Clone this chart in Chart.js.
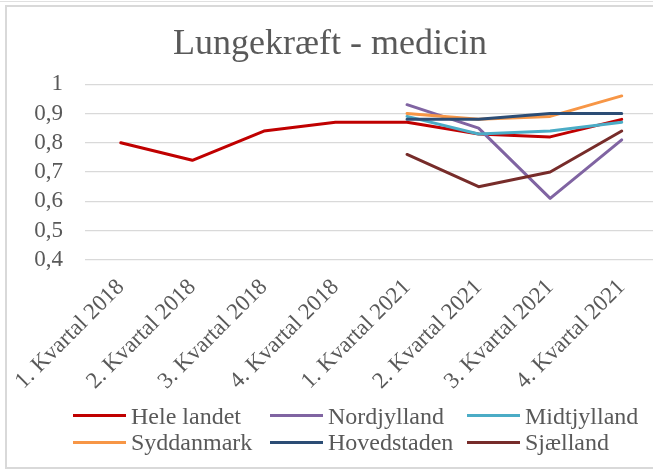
<!DOCTYPE html>
<html>
<head>
<meta charset="utf-8">
<script src="https://cdn.jsdelivr.net/npm/chart.js@4"></script>
<style>
  html, body { margin: 0; padding: 0; background: #fff; overflow: hidden; }
  #wrap { position: relative; width: 653px; height: 473px; overflow: hidden; }
  #frame { position: absolute; left: 5px; top: 5px; width: 700px; height: 460px; border: 2px solid #d9d9d9; box-sizing: content-box; }
  #topline { position: absolute; left: 0; top: 1px; width: 653px; height: 1px; background: #e0e0e0; }
  canvas { position: absolute; left: 0; top: 0; }
  .lg-line { position: absolute; height: 3px; width: 53px; }
  .lg-text { position: absolute; font-family: "Liberation Serif", "Times New Roman", serif; font-size: 24px; color: #595959; line-height: 26px; white-space: nowrap; }
</style>
</head>
<body>
<div id="wrap">
  <div id="topline"></div>
  <div id="frame"></div>
  <canvas id="c" width="700" height="415"></canvas>
</div>
<script>
const title = "Lungekræft - medicin";
const categories = ["1. Kvartal 2018", "2. Kvartal 2018", "3. Kvartal 2018", "4. Kvartal 2018",
                    "1. Kvartal 2021", "2. Kvartal 2021", "3. Kvartal 2021", "4. Kvartal 2021"];
const seriesNames = ["Hele landet", "Nordjylland", "Midtjylland", "Syddanmark", "Hovedstaden", "Sjælland"];
const heleLandet  = [0.80, 0.74, 0.84, 0.87, 0.87, 0.83, 0.82, 0.88];
const nordjylland = [null, null, null, null, 0.93, 0.85, 0.61, 0.81];
const midtjylland = [null, null, null, null, 0.89, 0.83, 0.84, 0.87];
const syddanmark  = [null, null, null, null, 0.90, 0.88, 0.89, 0.96];
const hovedstaden = [null, null, null, null, 0.88, 0.88, 0.90, 0.90];
const sjaelland   = [null, null, null, null, 0.76, 0.65, 0.70, 0.84];
const yTicks = [0.4, 0.5, 0.6, 0.7, 0.8, 0.9, 1];
const colors = ["#C00000", "#8064A2", "#4BACC6", "#F79646", "#2C4D75", "#772C2A"];

const seriesValues = [heleLandet, nordjylland, midtjylland, syddanmark, hovedstaden, sjaelland];
const FONT = '"Liberation Serif", "Times New Roman", serif';
const GREY = "#595959";

const datasets = seriesNames.map((name, i) => ({
  label: name,
  data: seriesValues[i],
  borderColor: colors[i],
  backgroundColor: colors[i],
  borderWidth: 3,
  pointRadius: 0,
  pointHoverRadius: 0,
  tension: 0,
  spanGaps: false,
  borderCapStyle: "round",
  borderJoinStyle: "round",
  order: seriesNames.length - i
}));

new Chart(document.getElementById("c"), {
  type: "line",
  data: { labels: categories, datasets },
  options: {
    responsive: false,
    animation: false,
    events: [],
    layout: { padding: { left: 2.5, right: 42.5, top: 0, bottom: 6 } },
    plugins: {
      legend: { display: false },
      tooltip: { enabled: false },
      title: {
        display: true,
        text: title,
        color: GREY,
        font: { family: FONT, size: 36, weight: "normal" },
        padding: { top: 23, bottom: 18 }
      }
    },
    scales: {
      x: {
        offset: true,
        grid: { display: false, drawTicks: false },
        border: { display: false },
        afterFit: (s) => { s.paddingLeft = 0; s.paddingRight = 0; },
        ticks: {
          color: GREY,
          font: { family: FONT, size: 23 },
          maxRotation: 45,
          minRotation: 45,
          autoSkip: false,
          padding: 14
        }
      },
      y: {
        min: 0.4,
        max: 1,
        afterBuildTicks: (axis) => { axis.ticks = yTicks.map(v => ({ value: v })); },
        afterFit: (s) => { s.width = 82.5; },
        grid: { color: "#d9d9d9", lineWidth: 1.3, drawTicks: false },
        border: { display: false },
        ticks: {
          color: GREY,
          font: { family: FONT, size: 23 },
          padding: 22,
          autoSkip: false,
          callback: (v) => String(Math.round(v * 10) / 10).replace(".", ",")
        }
      }
    }
  }
});

// HTML legend (3 columns x 2 rows), built from the series names and colors
const wrap = document.getElementById("wrap");
const colX = [73, 270, 467];
const rowY = [415.5, 442.3];
seriesNames.forEach((name, i) => {
  const c = i % 3, r = Math.floor(i / 3);
  const ln = document.createElement("div");
  ln.className = "lg-line";
  ln.style.left = colX[c] + "px";
  ln.style.top = (rowY[r] - 1.5) + "px";
  ln.style.background = colors[i];
  wrap.appendChild(ln);
  const tx = document.createElement("div");
  tx.className = "lg-text";
  tx.textContent = name;
  tx.style.left = (colX[c] + 58) + "px";
  tx.style.top = (rowY[r] - 13) + "px";
  wrap.appendChild(tx);
});
</script>
</body>
</html>
